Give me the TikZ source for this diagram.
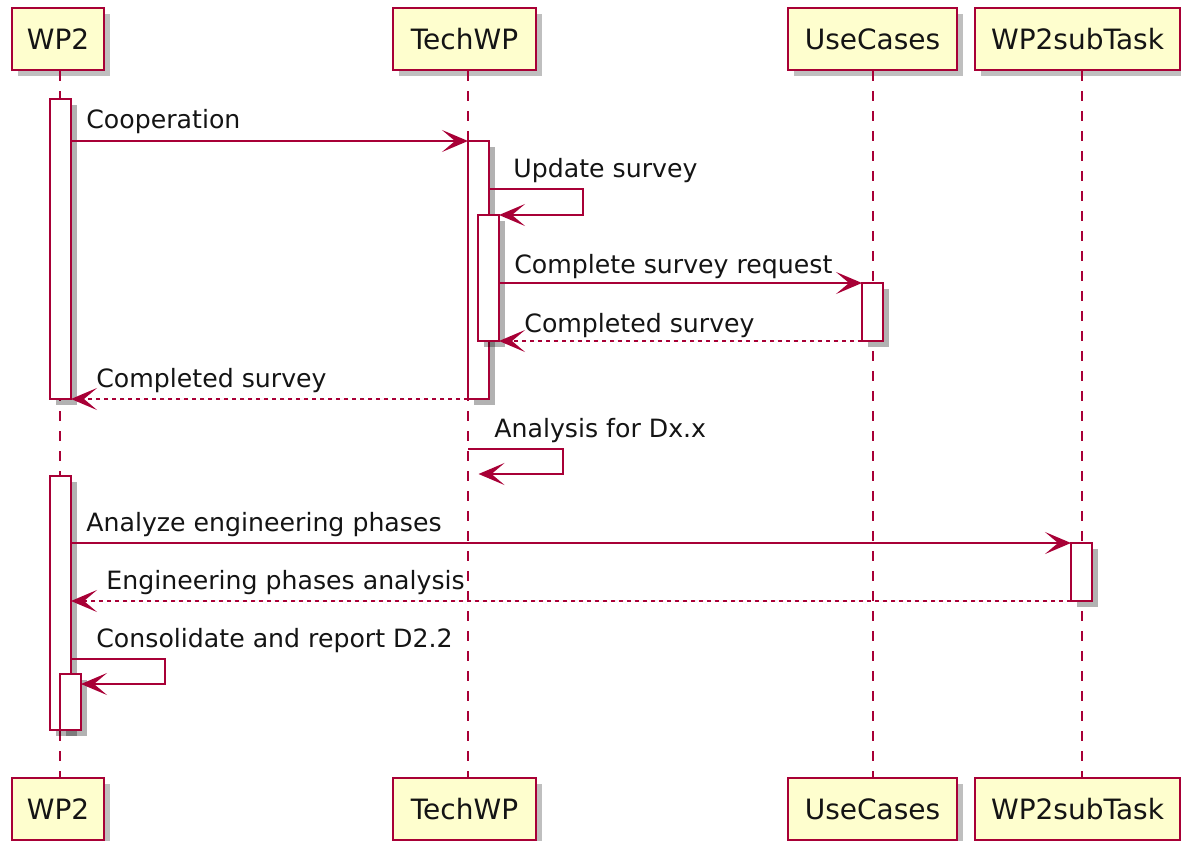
\documentclass[tikz,border=0pt]{standalone}
\usepackage{fontspec}
\setmainfont{DejaVu Sans}
\usetikzlibrary{arrows.meta,shadows}
\definecolor{myborder}{RGB}{168,0,54}
\definecolor{myfill}{RGB}{254,254,206}
\definecolor{mytext}{RGB}{20,20,20}

\begin{document}
\begin{tikzpicture}[x=0.5pt,y=-0.5pt,
  part/.style={draw=myborder,line width=1.1pt,fill=myfill,minimum height=31pt,inner sep=0pt,
    text=mytext,font=\fontsize{14}{17}\selectfont,
    drop shadow={shadow xshift=3pt,shadow yshift=-3pt,opacity=0.25,fill=black}},
  act/.style={draw=myborder,line width=1pt,fill=white,minimum width=10.5pt,inner sep=0pt,outer sep=0pt,
    drop shadow={shadow xshift=3pt,shadow yshift=-3pt,opacity=0.3,fill=black}},
  life/.style={myborder,line width=1pt,dash pattern=on 5pt off 5pt},
  msg/.style={myborder,line width=1pt,-{Stealth[length=13pt,width=11pt,inset=6.5pt]}},
  reply/.style={msg,dash pattern=on 2pt off 2pt},
  lbl/.style={anchor=base west,inner sep=0pt,text=mytext,font=\fontsize{12.6}{15}\selectfont}]
  \useasboundingbox (0,0) rectangle (1181,840);

  % participants, top and bottom
  \node[part,minimum width=46pt]   (wpTop)  at (58,39)     {WP2};
  \node[part,minimum width=71.5pt] (techTop) at (464.5,39) {TechWP};
  \node[part,minimum width=84.5pt] (useTop) at (872.5,39)  {UseCases};
  \node[part,minimum width=102.5pt] (subTop) at (1077.5,39) {WP2subTask};
  \node[part,minimum width=46pt]   (wpBot)  at (58,809)     {WP2};
  \node[part,minimum width=71.5pt] (techBot) at (464.5,809) {TechWP};
  \node[part,minimum width=84.5pt] (useBot) at (872.5,809)  {UseCases};
  \node[part,minimum width=102.5pt] (subBot) at (1077.5,809) {WP2subTask};

  % lifelines
  \draw[life] ([xshift=1pt]wpTop.south) -- ([xshift=1pt]wpBot.north);
  \draw[life] ([xshift=1.75pt]techTop.south) -- ([xshift=1.75pt]techBot.north);
  \draw[life] (useTop.south) -- (useBot.north);
  \draw[life] ([xshift=2pt]subTop.south) -- ([xshift=2pt]subBot.north);

  % activations
  \node[act,minimum height=150pt] (wpA)   at (60.5,249)  {};
  \node[act,minimum height=129pt] (techA) at (478.5,270) {};
  \node[act,minimum height=63pt]  (techB) at (488.5,278) {};
  \node[act,minimum height=29pt]  (useA)  at (872.5,312) {};
  \node[act,minimum height=127pt] (wpB)   at (60.5,603)  {};
  \node[act,minimum height=28pt]  (wpC)   at (70.5,702)  {};
  \node[act,minimum height=29pt]  (subA)  at (1081.5,572) {};

  % messages
  \draw[msg] (wpA.east |- 0,141) -- (techA.north west);
    \node[lbl] (lCoop) at (86,128) {Cooperation};
  \draw[msg] (techA.east |- 0,189) -- ++(94,0) |- (techB.north east);
    \node[lbl] (lUpdate) at (513,177) {Update survey};
  \draw[msg] (techB.east |- useA.north) -- (useA.north west);
    \node[lbl] (lRequest) at (514,273) {Complete survey request};
  \draw[reply] (useA.south west) -- (techB.south east);
    \node[lbl] (lDone) at (524,332) {Completed survey};
  \draw[reply] (techA.south west) -- (wpA.south east);
    \node[lbl] (lDoneWP) at (96,387) {Completed survey};
  \draw[msg] (techA.west |- 0,449) -- ++(95,0) |- (techA.center |- 0,474);
    \node[lbl] (lAnalysis) at (494,437) {Analysis for Dx.x};
  \draw[msg] (wpB.east |- subA.north) -- (subA.north west);
    \node[lbl] (lPhases) at (86,531) {Analyze engineering phases};
  \draw[reply] (subA.south west) -- (wpB.east |- subA.south);
    \node[lbl] (lResult) at (106,589) {Engineering phases analysis};
  \draw[msg] (wpB.east |- 0,659) -- ++(94,0) |- (wpC.east |- 0,684);
    \node[lbl] (lReport) at (96,647) {Consolidate and report D2.2};
\end{tikzpicture}
\end{document}
